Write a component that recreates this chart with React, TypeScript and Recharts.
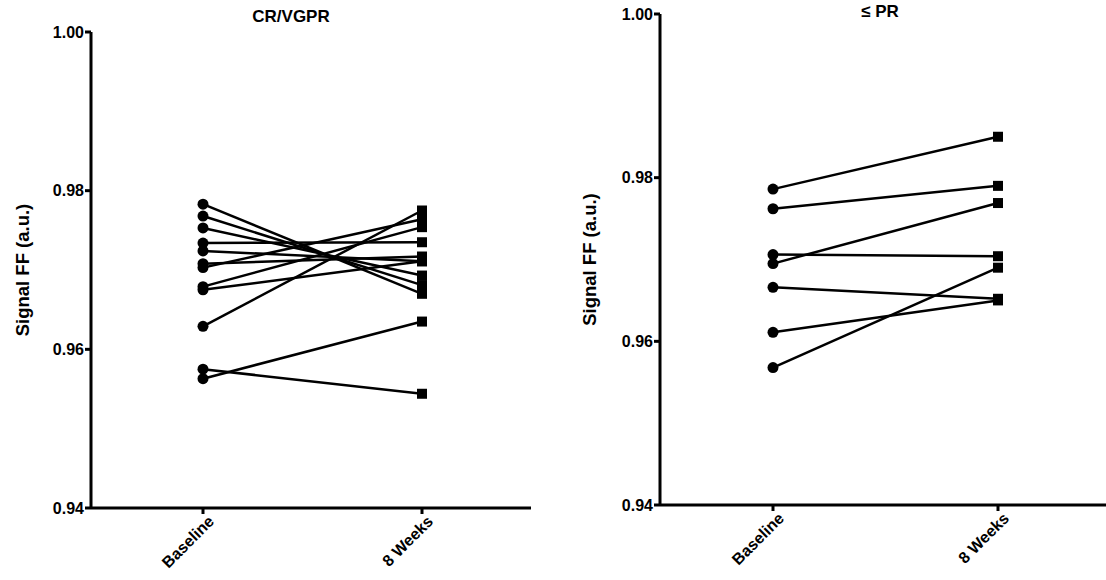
import React from "react";
import { LineChart, Line, XAxis, YAxis } from "recharts";

const timepoints = ["Baseline", "8 Weeks"];
const yTicks = [0.94, 0.96, 0.98, 1.0];

// CR/VGPR patients
const crBaseline = [0.9783, 0.9768, 0.9753, 0.9734, 0.9724, 0.9708, 0.9703, 0.9679, 0.9675, 0.9629, 0.9575, 0.9563];
const crWeek8 = [0.967, 0.9681, 0.9693, 0.9735, 0.9711, 0.9717, 0.9764, 0.9754, 0.9711, 0.9775, 0.9544, 0.9635];

// <= PR patients
const prBaseline = [0.9786, 0.9762, 0.9706, 0.9695, 0.9666, 0.9611, 0.9568];
const prWeek8 = [0.985, 0.979, 0.9704, 0.9769, 0.9652, 0.965, 0.969];

const FONT = "'Liberation Sans', Arial, sans-serif";

function buildRows(base: number[], week: number[]) {
  return timepoints.map((t, i) => {
    const row: Record<string, number | string> = { time: t };
    const src = i === 0 ? base : week;
    src.forEach((v, k) => {
      row["p" + k] = v;
    });
    return row;
  });
}

// eslint-disable-next-line @typescript-eslint/no-explicit-any
function PairDot(props: any) {
  const { cx, cy, index } = props;
  if (cx == null || cy == null) return null;
  if (index === 0) return <circle cx={cx} cy={cy} r={5.5} fill="#000" />;
  return <rect x={cx - 5} y={cy - 5} width={10} height={10} fill="#000" />;
}

// eslint-disable-next-line @typescript-eslint/no-explicit-any
function XTick({ x, y, payload }: any) {
  return (
    <g transform={`translate(${x},${y})`}>
      <text
        x={4}
        y={13}
        textAnchor="end"
        transform="rotate(-45)"
        fontFamily={FONT}
        fontWeight="bold"
        fontSize={16}
        fill="#000"
      >
        {payload.value}
      </text>
    </g>
  );
}

interface PanelProps {
  left: number;
  top: number;
  width: number;
  height: number;
  margin: { top: number; right: number; bottom: number; left: number };
  padding: { left: number; right: number };
  base: number[];
  week: number[];
  labelX: number;
}

function Panel({ left, top, width, height, margin, padding, base, week, labelX }: PanelProps) {
  const rows = buildRows(base, week);
  // eslint-disable-next-line @typescript-eslint/no-explicit-any
  const yLabel = ({ viewBox }: any) => {
    const cy = viewBox.y + viewBox.height / 2;
    return (
      <text
        x={labelX}
        y={cy}
        transform={`rotate(-90, ${labelX}, ${cy})`}
        textAnchor="middle"
        dominantBaseline="central"
        fontFamily={FONT}
        fontWeight="bold"
        fontSize={18.5}
        fill="#000"
      >
        Signal FF (a.u.)
      </text>
    );
  };
  return (
    <div style={{ position: "absolute", left, top }}>
      <LineChart width={width} height={height} data={rows} margin={margin}>
        <XAxis
          dataKey="time"
          padding={padding}
          height={50}
          axisLine={{ stroke: "#000", strokeWidth: 3 }}
          tickLine={{ stroke: "#000", strokeWidth: 3 }}
          tickSize={6}
          tick={<XTick />}
          interval={0}
        />
        <YAxis
          type="number"
          domain={[0.94, 1.0]}
          ticks={yTicks}
          width={60}
          tickFormatter={(v: number) => v.toFixed(2)}
          axisLine={{ stroke: "#000", strokeWidth: 3 }}
          tickLine={{ stroke: "#000", strokeWidth: 3 }}
          tickSize={6}
          tickMargin={1}
          tick={{ fill: "#000", fontFamily: FONT, fontWeight: "bold", fontSize: 16 }}
          allowDataOverflow
          label={yLabel}
        />
        {base.map((_, k) => (
          <Line
            key={k}
            dataKey={"p" + k}
            stroke="#000"
            strokeWidth={2.5}
            dot={<PairDot />}
            activeDot={false}
            isAnimationActive={false}
          />
        ))}
      </LineChart>
    </div>
  );
}

const titleStyle: React.CSSProperties = {
  position: "absolute",
  fontFamily: FONT,
  fontWeight: "bold",
  fontSize: 17,
  lineHeight: "20px",
  color: "#000",
  transform: "translate(-50%, -50%)",
  whiteSpace: "nowrap",
};

export default function App() {
  return (
    <div
      style={{
        position: "absolute",
        left: 0,
        top: 0,
        width: 1106,
        height: 580,
        background: "#fff",
        overflow: "hidden",
      }}
    >
      <div style={{ ...titleStyle, left: 291, top: 17 }}>CR/VGPR</div>
      <div style={{ ...titleStyle, left: 880, top: 12 }}>≤ PR</div>
      <Panel
        left={0}
        top={0}
        width={560}
        height={580}
        margin={{ top: 32, right: 29, bottom: 22, left: 31 }}
        padding={{ left: 112, right: 109 }}
        base={crBaseline}
        week={crWeek8}
        labelX={22}
      />
      <Panel
        left={560}
        top={0}
        width={560}
        height={580}
        margin={{ top: 14, right: 14, bottom: 25, left: 40 }}
        padding={{ left: 113, right: 108 }}
        base={prBaseline}
        week={prWeek8}
        labelX={29}
      />
    </div>
  );
}
